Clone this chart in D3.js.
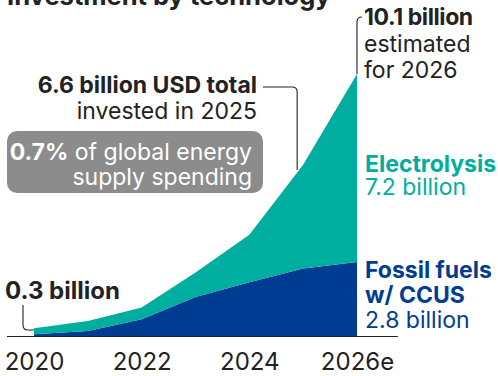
<!DOCTYPE html>
<html>
<head>
<meta charset="utf-8">
<script src="https://cdn.jsdelivr.net/npm/d3@7"></script>
<style>
  body { margin: 0; background: #fff; }
  svg { display: block; font-family: Inter, "Noto Sans", sans-serif; }
</style>
</head>
<body>
<div id="chart"></div>
<script>
const years = ["2020", "2021", "2022", "2023", "2024", "2025", "2026e"]
const tickYears = ["2020", "2022", "2024", "2026e"]
const fossil = [0.07, 0.19, 0.65, 1.5, 2.07, 2.6, 2.85]
const electrolysis = [0.23, 0.39, 0.45, 0.95, 1.83, 4.0, 7.25]
const keys = ["fossil", "electrolysis"]
const colors = { fossil: "#003d92", electrolysis: "#00ae9f" }

const w = 498
const h = 376
const ink = "#222"
const fs = 23

const rows = years.map((yr, i) => ({ year: yr, fossil: fossil[i], electrolysis: electrolysis[i] }))
const stacked = d3.stack().keys(keys)(rows)

const x = d3.scalePoint().domain(years).range([34, 357])
const y = d3.scaleLinear().domain([0, 10.1]).range([336, 74])

const svg = d3.select("#chart")
  .append("svg")
  .attr("width", w)
  .attr("height", h)

// title, mostly cropped off the top
svg.append("text")
  .attr("x", 7)
  .attr("y", 5)
  .attr("font-size", 25.5)
  .attr("font-weight", 700)
  .attr("fill", ink)
  .text("Investment by technology")

const area = d3.area()
  .x(d => x(d.data.year))
  .y0(d => y(d[0]))
  .y1(d => y(d[1]))

svg.selectAll("path.layer")
  .data(stacked)
  .enter()
  .append("path")
  .attr("class", "layer")
  .attr("d", area)
  .attr("fill", d => colors[d.key])

// baseline
svg.append("line")
  .attr("x1", 7).attr("x2", 398)
  .attr("y1", y(0) + 0.5).attr("y2", y(0) + 0.5)
  .attr("stroke", ink)
  .attr("stroke-width", 1.2)

const xAxis = d3.axisBottom(x).tickValues(tickYears).tickSize(0).tickPadding(0)
const gx = svg.append("g")
  .attr("transform", "translate(0," + (y(0)) + ")")
  .call(xAxis)
gx.select(".domain").remove()
gx.selectAll("text")
  .attr("dy", 0)
  .attr("y", 34)
  .attr("font-size", 24)
  .attr("font-family", "Inter, sans-serif")
  .attr("fill", ink)

const lead = (d) => svg.append("path")
  .attr("d", d)
  .attr("fill", "none")
  .attr("stroke", ink)
  .attr("stroke-width", 1.1)

// 10.1 billion annotation
const xEnd = x("2026e")
const total26 = fossil[6] + electrolysis[6]
lead(`M${xEnd},${y(total26)} V22 Q${xEnd},17 ${xEnd + 5},17`)
const t1 = svg.append("g").attr("font-size", fs).attr("fill", ink)
t1.append("text").attr("x", 364).attr("y", 25).attr("font-weight", 700).attr("letter-spacing", -0.4).text("10.1 billion")
t1.append("text").attr("x", 364).attr("y", 52).text("estimated")
t1.append("text").attr("x", 364).attr("y", 78).text("for 2026")

// 6.6 billion annotation
const x25 = x("2025") - 6
lead(`M263,87 H${x25 - 5} Q${x25},87 ${x25},92 V170`)
const t2 = svg.append("g").attr("font-size", fs).attr("fill", ink).attr("text-anchor", "end")
t2.append("text").attr("x", 257).attr("y", 93).attr("font-weight", 700).text("6.6 billion USD total")
t2.append("text").attr("x", 257).attr("y", 119).text("invested in 2025")

// grey share box
svg.append("rect")
  .attr("x", 7).attr("y", 131)
  .attr("width", 256).attr("height", 62)
  .attr("rx", 10)
  .attr("fill", "#8c8c8c")
const t3 = svg.append("g").attr("font-size", fs).attr("fill", "#fff").attr("text-anchor", "end")
const l1 = t3.append("text").attr("x", 252).attr("y", 160)
l1.append("tspan").attr("font-weight", 700).text("0.7%")
l1.append("tspan").text(" of global energy")
t3.append("text").attr("x", 252).attr("y", 185).text("supply spending")

// series labels
const t4 = svg.append("g").attr("font-size", fs).attr("fill", colors.electrolysis)
t4.append("text").attr("x", 365).attr("y", 172).attr("font-weight", 700).text("Electrolysis")
t4.append("text").attr("x", 365).attr("y", 195).text("7.2 billion")

const t5 = svg.append("g").attr("font-size", fs).attr("fill", colors.fossil)
t5.append("text").attr("x", 365).attr("y", 278).attr("font-weight", 700).text("Fossil fuels")
t5.append("text").attr("x", 365).attr("y", 303).attr("font-weight", 700).text("w/ CCUS")
t5.append("text").attr("x", 365).attr("y", 328).text("2.8 billion")

// 0.3 billion annotation
const x20 = x("2020")
lead(`M23,305 V325 Q23,330 28,330 H${x20}`)
svg.append("text")
  .attr("x", 5).attr("y", 299)
  .attr("font-size", fs + 1)
  .attr("font-weight", 700)
  .attr("fill", ink)
  .text("0.3 billion")
</script>
</body>
</html>
